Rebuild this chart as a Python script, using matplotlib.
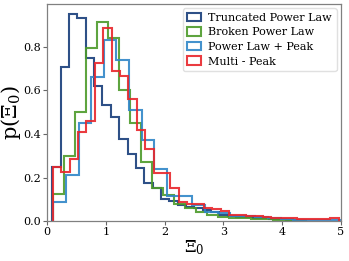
import numpy as np
import matplotlib
matplotlib.use("Agg")
import matplotlib.pyplot as plt

plt.rcParams['font.family'] = 'DejaVu Serif'
plt.rcParams['mathtext.fontset'] = 'dejavuserif'

labels = ['Truncated Power Law', 'Broken Power Law', 'Power Law + Peak', 'Multi - Peak']
colors = ['#173d7a', '#4c9a2a', '#2f86c8', '#e8262b']

# bin start and bin width of each histogram
bin_start = [0.09, 0.105, 0.105, 0.097]
bin_width = [0.142, 0.187, 0.215, 0.143]

# densities
trunc_pl = [0.25, 0.71, 0.95, 0.935, 0.75, 0.62, 0.535, 0.48, 0.377, 0.307,
            0.242, 0.173, 0.153, 0.101, 0.09, 0.074, 0.065, 0.06, 0.05, 0.04,
            0.03, 0.025, 0.02, 0.018, 0.015, 0.012, 0.01, 0.008, 0.006, 0.005]
broken_pl = [0.123, 0.30, 0.50, 0.794, 0.916, 0.84, 0.60, 0.452, 0.27, 0.15,
             0.12, 0.08, 0.058, 0.04, 0.03, 0.02, 0.015, 0.012, 0.01, 0.008,
             0.006, 0.005, 0.004]
pl_peak = [0.089, 0.21, 0.45, 0.663, 0.832, 0.74, 0.51, 0.372, 0.24, 0.115,
           0.115, 0.075, 0.04, 0.038, 0.025, 0.022, 0.02, 0.012, 0.01, 0.006,
           0.005, 0.004, 0.003]
multi_peak = [0.25, 0.227, 0.284, 0.41, 0.46, 0.725, 0.886, 0.69, 0.667, 0.56,
              0.418, 0.331, 0.219, 0.219, 0.15, 0.089, 0.077, 0.077, 0.058, 0.055,
              0.045, 0.03, 0.028, 0.025, 0.022, 0.02, 0.015, 0.012, 0.012, 0.01,
              0.008, 0.008, 0.01, 0.012]

series = [trunc_pl, broken_pl, pl_peak, multi_peak]

fig = plt.figure(figsize=(3.49, 2.61), dpi=100)
ax = fig.add_axes([0.135, 0.153, 0.842, 0.832])

for vals, x0, w, c, lab in zip(series, bin_start, bin_width, colors, labels):
    edges = x0 + w * np.arange(len(vals) + 1)
    ax.hist(edges[:-1], bins=edges, weights=vals, histtype='step',
            color=c, lw=1.5, alpha=0.9, label=lab)

ax.set_xlim(0, 5)
ax.set_xticks([0, 1, 2, 3, 4, 5])
ax.set_yticks([0.0, 0.2, 0.4, 0.6, 0.8])
ax.tick_params(labelsize=8, length=3, width=0.8, color='0.4', pad=1.5)
for s in ax.spines.values():
    s.set_color('0.5')
    s.set_linewidth(0.9)
ax.set_xlabel(r'$\Xi_0$', fontsize=12, labelpad=1)
ax.set_ylabel(r'p($\Xi_0$)', fontsize=15, labelpad=0)
ax.legend(loc='upper right', fontsize=8, handlelength=1.2, handleheight=0.8,
          labelspacing=0.4, borderpad=0.4, handletextpad=0.7, framealpha=1,
          edgecolor='0.88', borderaxespad=0.4)

fig.savefig('out.png', dpi=100)
